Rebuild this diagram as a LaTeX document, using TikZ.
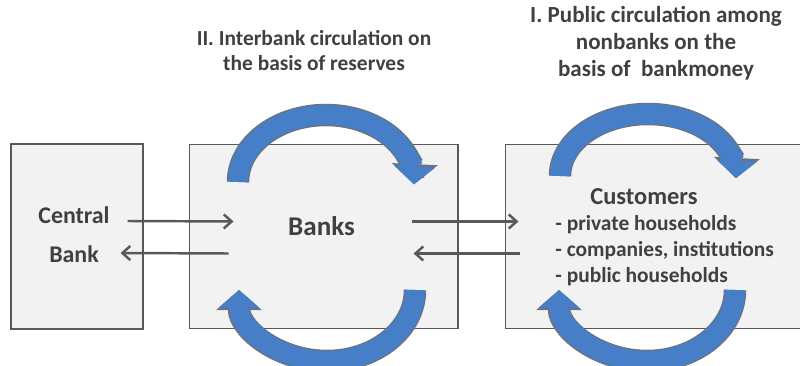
\documentclass[tikz,border=0pt]{standalone}
\usepackage{fontspec}
\setmainfont{Carlito}
\usetikzlibrary{arrows.meta,positioning,calc}
\definecolor{boxfill}{RGB}{242,242,242}
\definecolor{boxline}{RGB}{89,89,89}
\definecolor{txtgray}{RGB}{64,64,64}
\definecolor{ringblue}{RGB}{70,126,200}
\definecolor{ringgray}{RGB}{105,115,130}

\begin{document}
\begin{tikzpicture}[x=0.02cm, y=0.02cm,
    box/.style={draw=boxline, fill=boxfill, line width=0.6pt, inner sep=0pt, minimum height=3.68cm},
    lbl/.style={text=txtgray, font=\bfseries, align=center, inner sep=0pt},
    flow/.style={draw=boxline, line width=1.4pt, -{Straight Barb[length=4.5pt,width=8pt]}},
    ringedge/.style={draw=ringgray, line width=12.8pt, -{Triangle[width=25.5pt,length=11.5pt]}},
    ring/.style={draw=ringblue, line width=11.2pt, -{Triangle[width=22.5pt,length=10pt]}}]
    \useasboundingbox (0,0) rectangle (800,365);
    \clip (0,0) rectangle (800,365);

    % boxes
    \node[box, minimum width=2.64cm, minimum height=3.7cm] (cb) at (77,128.5) {};
    \node[box, minimum width=5.38cm, right=0.9cm of cb] (banks) {};
    \node[box, minimum width=6.3cm, right=0.92cm of banks] (cust) {};

    % circulation loops
    \foreach \cx/\cy/\ry/\sa/\ea in {326/183/67/180/-2, 648/189/62/180/-2, 327/75/71/0/-180, 647/75/71/0/-180} {
      \draw[ringedge] ({\cx+88*cos(\sa)},{\cy+\ry*sin(\sa)}) arc[start angle=\sa, end angle=\ea, x radius=88, y radius=\ry];
      \draw[ring] ({\cx+88*cos(\sa)},{\cy+\ry*sin(\sa)}) arc[start angle=\sa, end angle=\ea, x radius=88, y radius=\ry];
    }

    % labels
    \node[lbl, font=\bfseries\fontsize{13.6}{22}\selectfont] (cbtxt) at (74,130.5) {Central\\Bank};
    \node[lbl, font=\bfseries\fontsize{15.4}{18}\selectfont] (bankstxt) at (321.5,138.5) {Banks};
    \node[lbl, font=\bfseries\fontsize{13.9}{16}\selectfont] (custtxt) at (644,168) {Customers};
    \node[lbl, align=left, anchor=west, font=\bfseries\fontsize{12.2}{14.8}\selectfont] (custlist) at (555,114)
      {- private households\\- companies, institutions\\- public households};

    \node[lbl, font=\bfseries\fontsize{12.2}{14.2}\selectfont] (inter) at (314,314.5)
      {II. Interbank circulation on\\the basis of reserves};
    \node[lbl, font=\bfseries\fontsize{13.1}{15.4}\selectfont] (public) at (656,321.5)
      {I. Public circulation among\\nonbanks on the\\basis of\ \ bankmoney};

    % flows
    \draw[flow] ([shift={(-16,15.5)}]cb.east) -- ([shift={(45,15)}]banks.west);
    \draw[flow] ([shift={(40,-17)}]banks.west) -- ([shift={(-23,-16.5)}]cb.east);
    \draw[flow] ([shift={(-47,15)}]banks.east) -- ([shift={(14,15)}]cust.west);
    \draw[flow] ([shift={(15,-17)}]cust.west) -- ([shift={(-45,-17)}]banks.east);
\end{tikzpicture}
\end{document}
